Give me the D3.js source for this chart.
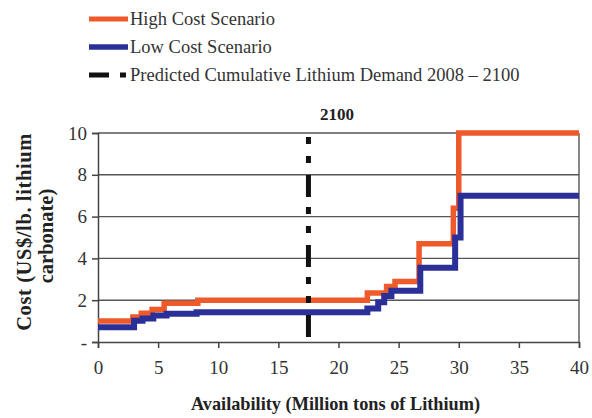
<!DOCTYPE html>
<html>
<head>
<meta charset="utf-8">
<script src="https://cdn.jsdelivr.net/npm/d3@7"></script>
<style>
  body { margin: 0; background: #fff; }
  svg { display: block; }
  svg text { font-family: "Liberation Serif", "DejaVu Serif", serif; }
</style>
</head>
<body>
<svg id="chart" width="592" height="418"></svg>
<script>
// step curves: x = availability (Mt Li), y = cost (US$/lb)
var highX    = [0, 2.9, 3.6, 4.5, 5.5, 8.3, 22.4, 24.0, 24.7, 26.7, 29.55, 30.0, 40];
var highCost = [1.0, 1.2, 1.38, 1.55, 1.85, 2.0, 2.35, 2.65, 2.9, 4.7, 6.4, 10, 10];
var lowX     = [0, 3.0, 3.7, 4.6, 5.7, 8.2, 22.4, 23.3, 23.8, 24.4, 26.8, 29.7, 30.15, 40];
var lowCost  = [0.7, 1.02, 1.13, 1.27, 1.35, 1.42, 1.6, 1.9, 2.2, 2.45, 3.55, 5.0, 7.0, 7.0];
var demand2100 = 17.5;
var xTicks = [0, 5, 10, 15, 20, 25, 30, 35, 40];
var yTicks = [0, 2, 4, 6, 8, 10];
var legendLabels = ["High Cost Scenario", "Low Cost Scenario", "Predicted Cumulative Lithium Demand 2008 \u2013 2100"];

var svg = d3.select("#chart");
var width = 592;
var height = 418;
var margin = { top: 133, right: 13, bottom: 76, left: 98 };

var orange = "#ee5a2a";
var blue = "#2b2f98";

var x = d3.scaleLinear()
	.domain([0, 40])
	.range([margin.left, width - margin.right]);
var y = d3.scaleLinear()
	.domain([0, 10])
	.range([height - margin.bottom, margin.top]);

// gridlines
svg.append("g")
	.selectAll("line")
	.data(yTicks.filter(d => d > 0))
	.enter()
	.append("line")
	.attr("x1", x(0))
	.attr("x2", x(40))
	.attr("y1", d => y(d))
	.attr("y2", d => y(d))
	.attr("stroke", "#555")
	.attr("stroke-width", 1.4);

// right frame
svg.append("line")
	.attr("x1", x(40)).attr("x2", x(40))
	.attr("y1", y(0)).attr("y2", y(10))
	.attr("stroke", "#555")
	.attr("stroke-width", 1.4);

var xAxis = svg.append("g")
	.attr("transform", `translate(0, ${y(0)})`)
	.call(d3.axisBottom(x).tickValues(xTicks).tickSize(6).tickPadding(13));
var yAxis = svg.append("g")
	.attr("transform", `translate(${x(0)}, 0)`)
	.call(d3.axisLeft(y).tickValues(yTicks).tickSize(6).tickPadding(5)
		.tickFormat(d => d === 0 ? "-" : d));

[xAxis, yAxis].forEach(g => {
	g.attr("font-family", null);
	g.select(".domain").attr("stroke", "#444").attr("stroke-width", 1.5);
	g.selectAll(".tick line").attr("stroke", "#444").attr("stroke-width", 1.5);
	g.selectAll(".tick text")
		.attr("font-size", "19px")
		.attr("fill", "#333");
});

// cost curves
var line = d3.line()
	.x(d => x(d[0]))
	.y(d => y(d[1]))
	.curve(d3.curveStepAfter);

svg.append("path")
	.datum(d3.zip(highX, highCost))
	.attr("d", line)
	.attr("fill", "none")
	.attr("stroke", orange)
	.attr("stroke-width", 5.5);
svg.append("path")
	.datum(d3.zip(lowX, lowCost))
	.attr("d", line)
	.attr("fill", "none")
	.attr("stroke", blue)
	.attr("stroke-width", 6);

// 2100 demand marker
svg.append("line")
	.attr("x1", x(demand2100)).attr("x2", x(demand2100))
	.attr("y1", y(10)).attr("y2", y(0))
	.attr("stroke", "#111")
	.attr("stroke-width", 5)
	.attr("stroke-dasharray", "7,12,7,12,22,10")
	.attr("stroke-dashoffset", 66);
svg.append("text")
	.attr("x", 337)
	.attr("y", 120)
	.attr("text-anchor", "middle")
	.attr("font-size", "17px")
	.attr("font-weight", "bold")
	.attr("fill", "#222")
	.text("2100");

// axis titles
svg.append("text")
	.attr("x", x(20) - 3)
	.attr("y", 410)
	.attr("text-anchor", "middle")
	.attr("font-size", "18.3px")
	.attr("font-weight", "bold")
	.attr("fill", "#222")
	.text("Availability (Million tons of Lithium)");
var yTitle = svg.append("text")
	.attr("transform", "rotate(-90)")
	.attr("text-anchor", "middle")
	.attr("font-size", "20.5px")
	.attr("font-weight", "bold")
	.attr("fill", "#222");
yTitle.append("tspan").attr("x", -232).attr("y", 31)
	.attr("letter-spacing", "0.6px")
	.text("Cost (US$/lb. lithium");
yTitle.append("tspan").attr("x", -236).attr("y", 53).text("carbonate)");

// legend
var legend = svg.append("g");
var legendY = [19, 47, 75];
legend.append("line")
	.attr("x1", 89).attr("x2", 128)
	.attr("y1", legendY[0]).attr("y2", legendY[0])
	.attr("stroke", orange).attr("stroke-width", 5);
legend.append("line")
	.attr("x1", 89).attr("x2", 128)
	.attr("y1", legendY[1]).attr("y2", legendY[1])
	.attr("stroke", blue).attr("stroke-width", 5.5);
legend.append("line")
	.attr("x1", 89).attr("x2", 126)
	.attr("y1", legendY[2]).attr("y2", legendY[2])
	.attr("stroke", "#111").attr("stroke-width", 5)
	.attr("stroke-dasharray", "20,11,6,20");
legend.selectAll("text")
	.data(legendLabels)
	.enter()
	.append("text")
	.attr("x", 130)
	.attr("y", (d, i) => legendY[i] + 6)
	.attr("font-size", "18.5px")
	.attr("fill", "#333")
	.text(d => d);
</script>
</body>
</html>
